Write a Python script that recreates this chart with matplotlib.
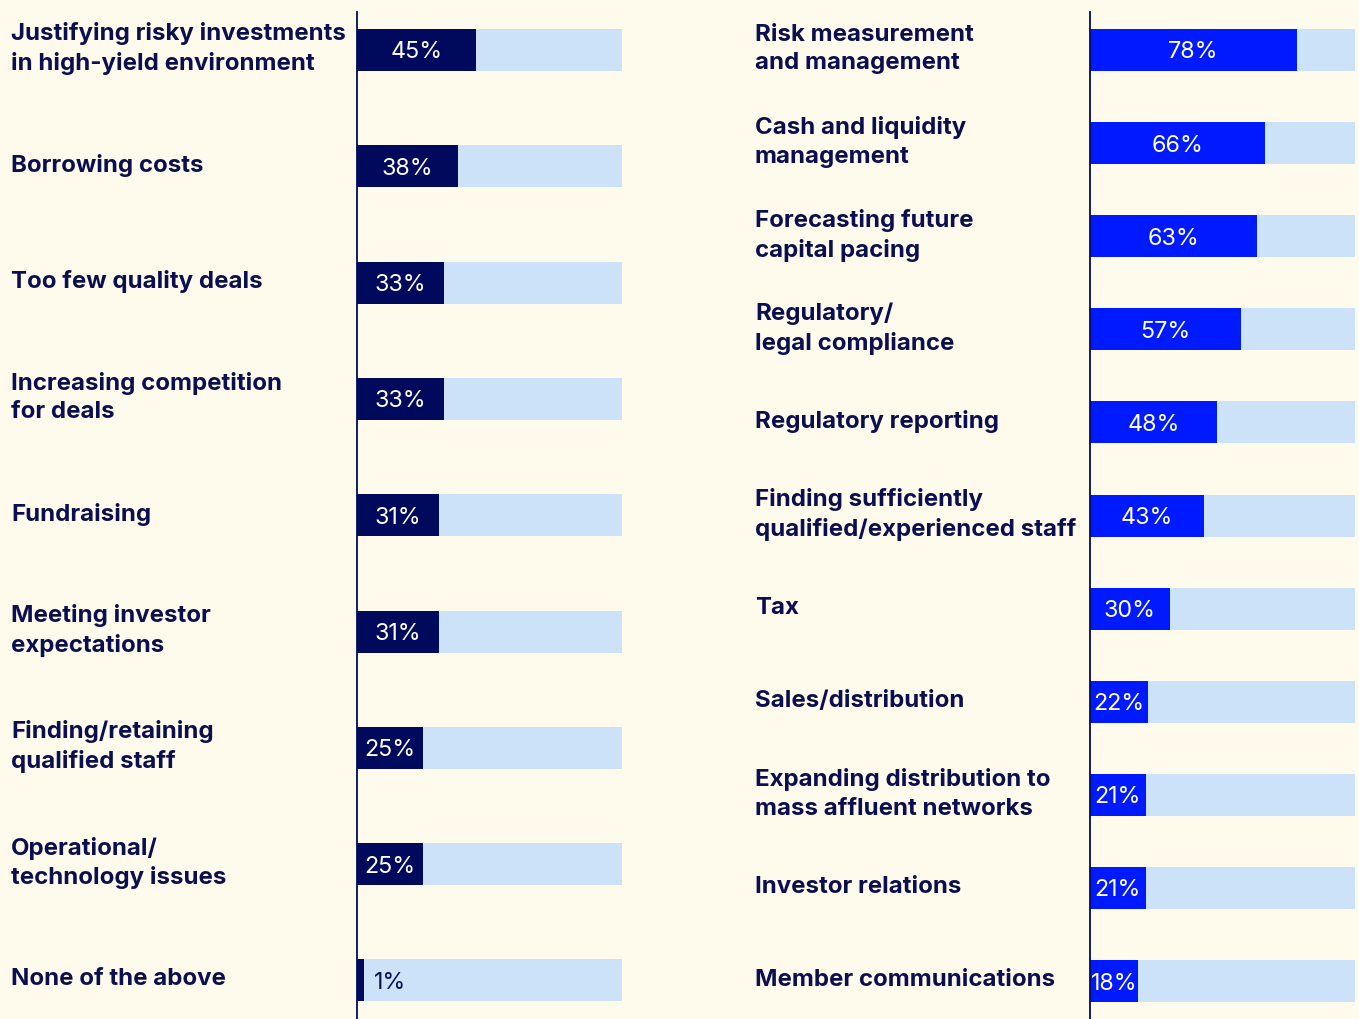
import matplotlib
matplotlib.use("Agg")
import matplotlib.pyplot as plt
from matplotlib.transforms import blended_transform_factory

left_labels = [
    "Justifying risky investments\nin high-yield environment",
    "Borrowing costs",
    "Too few quality deals",
    "Increasing competition\nfor deals",
    "Fundraising",
    "Meeting investor\nexpectations",
    "Finding/retaining\nqualified staff",
    "Operational/\ntechnology issues",
    "None of the above",
]
left_values = [45, 38, 33, 33, 31, 31, 25, 25, 1]

right_labels = [
    "Risk measurement\nand management",
    "Cash and liquidity\nmanagement",
    "Forecasting future\ncapital pacing",
    "Regulatory/\nlegal compliance",
    "Regulatory reporting",
    "Finding sufficiently\nqualified/experienced staff",
    "Tax",
    "Sales/distribution",
    "Expanding distribution to\nmass affluent networks",
    "Investor relations",
    "Member communications",
]
right_values = [78, 66, 63, 57, 48, 43, 30, 22, 21, 21, 18]

W, H = 1359, 1019
BG = "#FFFBEC"
NAVY = "#000A5C"
BLUE = "#001AFF"
LIGHT = "#CCE2F8"
TEXT = "#0B0F4F"

plt.rcParams['font.family'] = ['Inter', 'DejaVu Sans']

fig = plt.figure(figsize=(W / 100, H / 100), dpi=100, facecolor=BG)


def panel(x0, x1, labels, values, color, label_x, spacing):
    n = len(values)
    top, bot = 12, 1019
    ax = fig.add_axes([x0 / W, (H - bot) / H, (x1 - x0) / W, (bot - top) / H],
                      facecolor="none")
    first = 50
    ax.set_xlim(0, 100)
    ax.set_ylim((bot - first) / spacing, (top - first) / spacing)
    for s in ["top", "right", "bottom"]:
        ax.spines[s].set_visible(False)
    ax.spines["left"].set_color(NAVY)
    ax.spines["left"].set_linewidth(1.3)
    ax.set_xticks([])
    ax.set_yticks([])
    h = 42 / spacing
    ys = list(range(n))
    ax.barh(ys, [100] * n, height=h, color=LIGHT, zorder=1)
    ax.barh(ys, [max(v, 2.6) for v in values], height=h, color=color, zorder=2)
    tr = blended_transform_factory(fig.transFigure, ax.transData)
    for i, (lab, v) in enumerate(zip(labels, values)):
        ax.text(label_x / W, i - 0.01, lab, transform=tr, ha="left", va="center",
                fontsize=17.3, fontweight="bold", color=TEXT, linespacing=1.38)
        if v < 5:
            ax.text(6.5, i, f"{v}%", ha="left", va="center_baseline", fontsize=16.8,
                    color=TEXT, zorder=3)
        else:
            ax.text(v / 2, i, f"{v}%", ha="center", va="center_baseline", fontsize=16.8,
                    color="white", zorder=3)
    return ax


panel(357, 622, left_labels, left_values, NAVY, 11, 116.3)
panel(1090, 1355, right_labels, right_values, BLUE, 755, 93.1)

fig.savefig("out.png", dpi=100, facecolor=BG)
